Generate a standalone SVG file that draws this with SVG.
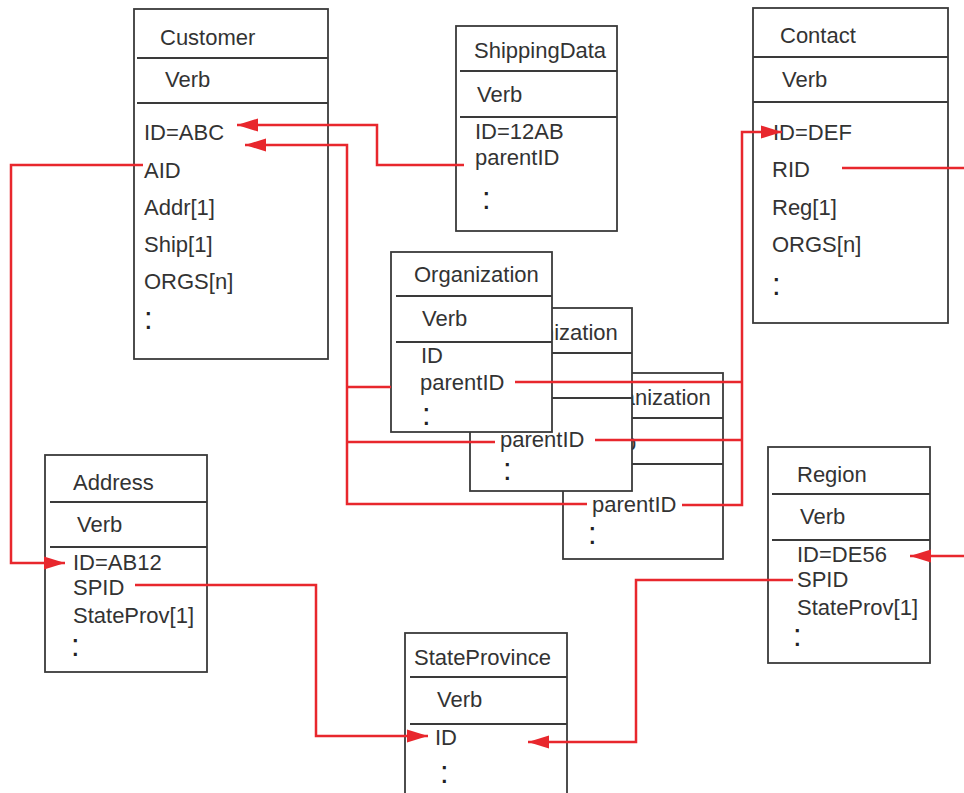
<svg xmlns="http://www.w3.org/2000/svg" width="964" height="793" viewBox="0 0 964 793">
<defs>
<style>
.box{fill:#fff;stroke:#3a3a3a;stroke-width:1.8}
.div{stroke:#3a3a3a;stroke-width:1.8}
text{font-family:"Liberation Sans",Arial,sans-serif;font-size:22px;fill:#333}
text.dots{font-size:31px;fill:#222}
.con{fill:none;stroke:#e8272d;stroke-width:2.5}
</style>
<marker id="ah" markerUnits="userSpaceOnUse" markerWidth="22" markerHeight="14" refX="21" refY="7" orient="auto">
<path d="M0,0.5 L21,7 L0,13.5 z" fill="#e8272d"/>
</marker>
</defs>
<rect width="964" height="793" fill="#fff"/>

<g id="customer">
<rect class="box" x="134" y="9" width="194" height="350"/>
<line class="div" x1="137" y1="58" x2="328" y2="58"/>
<line class="div" x1="137" y1="103" x2="328" y2="103"/>
<text x="160" y="45">Customer</text>
<text x="165" y="87">Verb</text>
<text x="144" y="140">ID=ABC</text>
<text x="144" y="178">AID</text>
<text x="144" y="215">Addr[1]</text>
<text x="144" y="252">Ship[1]</text>
<text x="144" y="289">ORGS[n]</text>
<text class="dots" x="144" y="329">:</text>
</g>

<g id="shippingdata">
<rect class="box" x="456" y="26" width="161" height="205"/>
<line class="div" x1="460" y1="71" x2="617" y2="71"/>
<line class="div" x1="460" y1="117" x2="617" y2="117"/>
<text x="474" y="58">ShippingData</text>
<text x="477" y="102">Verb</text>
<text x="475" y="139">ID=12AB</text>
<text x="475" y="165">parentID</text>
<text class="dots" x="482" y="209">:</text>
</g>

<g id="contact">
<rect class="box" x="753" y="8" width="195" height="315"/>
<line class="div" x1="753" y1="57" x2="948" y2="57"/>
<line class="div" x1="753" y1="102" x2="948" y2="102"/>
<text x="780" y="43">Contact</text>
<text x="782" y="87">Verb</text>
<text x="773" y="140">ID=DEF</text>
<text x="772" y="177">RID</text>
<text x="772" y="215">Reg[1]</text>
<text x="772" y="252">ORGS[n]</text>
<text class="dots" x="772" y="295">:</text>
</g>

<g id="organization3">
<rect class="box" x="563" y="373" width="160" height="186"/>
<line class="div" x1="568" y1="418" x2="723" y2="418"/>
<line class="div" x1="568" y1="464" x2="723" y2="464"/>
<text x="586" y="405">Organization</text>
<text x="591" y="450">Verb</text>
<text x="592" y="512">parentID</text>
<text class="dots" x="588" y="544">:</text>
</g>

<g id="organization2">
<rect class="box" x="470" y="308" width="162" height="183"/>
<line class="div" x1="475" y1="353" x2="632" y2="353"/>
<line class="div" x1="475" y1="398" x2="632" y2="398"/>
<text x="493" y="340">Organization</text>
<text x="500" y="447">parentID</text>
<text class="dots" x="503" y="480">:</text>
</g>

<g id="organization1">
<rect class="box" x="391" y="252" width="161" height="180"/>
<line class="div" x1="396" y1="296" x2="552" y2="296"/>
<line class="div" x1="396" y1="342" x2="552" y2="342"/>
<text x="414" y="282">Organization</text>
<text x="422" y="326">Verb</text>
<text x="421" y="363">ID</text>
<text x="420" y="390">parentID</text>
<text class="dots" x="422" y="425">:</text>
</g>

<g id="address">
<rect class="box" x="45" y="455" width="162" height="217"/>
<line class="div" x1="50" y1="502" x2="207" y2="502"/>
<line class="div" x1="50" y1="547" x2="207" y2="547"/>
<text x="73" y="490">Address</text>
<text x="77" y="532">Verb</text>
<text x="73" y="570">ID=AB12</text>
<text x="73" y="595">SPID</text>
<text x="73" y="623">StateProv[1]</text>
<text class="dots" x="71" y="656">:</text>
</g>

<g id="region">
<rect class="box" x="768" y="447" width="162" height="216"/>
<line class="div" x1="772" y1="494" x2="930" y2="494"/>
<line class="div" x1="772" y1="540" x2="930" y2="540"/>
<text x="797" y="482">Region</text>
<text x="800" y="524">Verb</text>
<text x="797" y="562">ID=DE56</text>
<text x="797" y="587">SPID</text>
<text x="797" y="615">StateProv[1]</text>
<text class="dots" x="793" y="646">:</text>
</g>

<g id="stateprovince">
<rect class="box" x="405" y="633" width="162" height="175"/>
<line class="div" x1="410" y1="677" x2="567" y2="677"/>
<line class="div" x1="410" y1="724" x2="567" y2="724"/>
<text x="414" y="665">StateProvince</text>
<text x="437" y="707">Verb</text>
<text x="435" y="745">ID</text>
<text class="dots" x="440" y="783">:</text>
</g>

<g id="connectors">
<path class="con" d="M464,165 H377 V125 H237" marker-end="url(#ah)"/>
<path class="con" d="M587,504 H347 V145 H245" marker-end="url(#ah)"/>
<path class="con" d="M391,387 H347"/>
<path class="con" d="M495,442 H347"/>
<path class="con" d="M143,165 H11 V563 H65" marker-end="url(#ah)"/>
<path class="con" d="M515,382 H742"/>
<path class="con" d="M595,440 H742"/>
<path class="con" d="M682,505 H742 V132 H782" marker-end="url(#ah)"/>
<path class="con" d="M842,168 H975 V556 H910" marker-end="url(#ah)"/>
<path class="con" d="M135,585 H316 V736 H428" marker-end="url(#ah)"/>
<path class="con" d="M793,580 H636 V742 H528" marker-end="url(#ah)"/>
</g>
</svg>
